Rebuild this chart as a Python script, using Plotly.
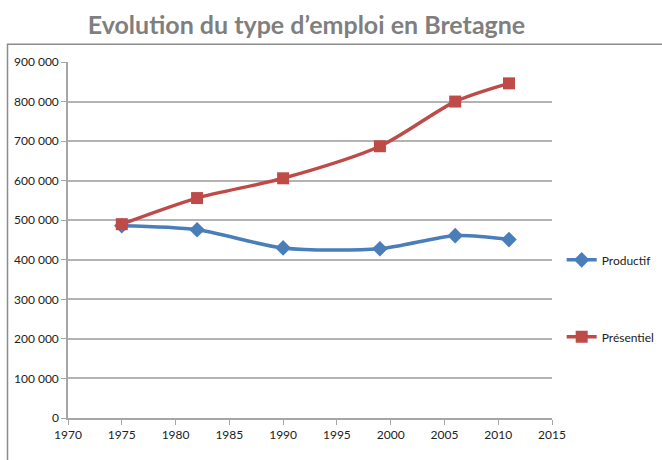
import plotly.graph_objects as go

# Employment in Brittany by type of job
years = [1975, 1982, 1990, 1999, 2006, 2011]
productif = [486000, 476000, 430000, 428000, 461000, 451000]
presentiel = [490000, 556000, 606000, 687000, 800000, 846000]

x_ticks = list(range(1970, 2016, 5))
y_ticks = list(range(0, 900001, 100000))
y_tick_labels = ["0" if v == 0 else f"{v // 1000} 000" for v in y_ticks]

BLUE = "#4a7ebb"
RED = "#be4b48"
FONT = "Lato"

fig = go.Figure()
fig.add_trace(go.Scatter(
    x=years, y=productif, name="Productif", mode="lines+markers",
    line=dict(color=BLUE, width=3.5, shape="spline", smoothing=0.8),
    marker=dict(symbol="diamond", size=12, color=BLUE),
    legendgroup="a",
))
fig.add_trace(go.Scatter(
    x=years, y=presentiel, name="Présentiel", mode="lines+markers",
    line=dict(color=RED, width=3.5, shape="spline", smoothing=0.8),
    marker=dict(symbol="square", size=12, color=RED),
    legendgroup="b",
))

fig.update_layout(
    width=662, height=460,
    margin=dict(l=68, r=110, t=62, b=42, autoexpand=False),
    paper_bgcolor="white", plot_bgcolor="white",
    font=dict(family=FONT, size=12, color="#222"),
    title=dict(
        text="<b>Evolution du type d\u2019emploi en Bretagne</b>",
        x=0.463, xanchor="center", y=0.945, yanchor="middle",
        font=dict(family=FONT, size=25, color="#7f7f7f"),
    ),
    showlegend=True,
    legend=dict(
        x=1.02, xanchor="left", y=0.485, yanchor="top",
        tracegroupgap=58, itemwidth=30,
        font=dict(family=FONT, size=12, color="#222"),
        bgcolor="rgba(0,0,0,0)",
    ),
    xaxis=dict(
        range=[1970, 2015], tickvals=x_ticks, ticktext=[str(v) for v in x_ticks],
        showgrid=False, zeroline=False,
        showline=True, linecolor="#a6a6a6", linewidth=1.5,
        ticks="outside", ticklen=5, tickcolor="#a6a6a6",
        tickfont=dict(family=FONT, size=12, color="#222"),
    ),
    yaxis=dict(
        range=[0, 900000], tickvals=y_ticks, ticktext=y_tick_labels,
        showgrid=True, gridcolor="#b3b3b3", gridwidth=1.5, zeroline=False,
        showline=True, linecolor="#a6a6a6", linewidth=1.5,
        ticks="outside", ticklen=5, tickcolor="#a6a6a6",
        tickfont=dict(family=FONT, size=12, color="#222"),
    ),
    shapes=[dict(
        type="rect", xref="paper", yref="paper",
        x0=-0.125, x1=1.3, y0=-0.3, y1=1.05,
        line=dict(color="#8c8c8c", width=1.5), fillcolor="rgba(0,0,0,0)",
        layer="below",
    )],
)

fig.write_html("out.html")
